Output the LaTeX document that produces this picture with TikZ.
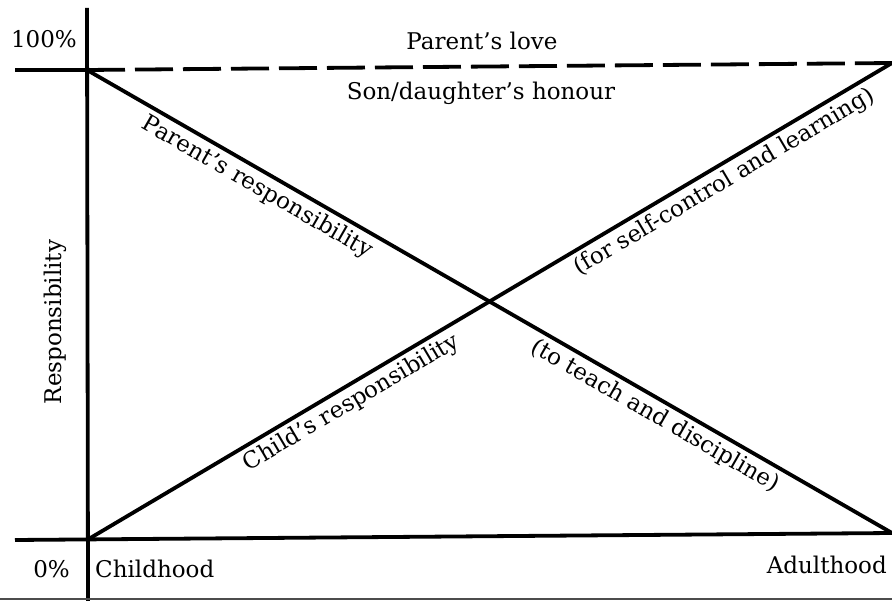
\documentclass[tikz,border=0pt]{standalone}
\usepackage{fontspec}
\setmainfont{DejaVu Serif}
\begin{document}
\begin{tikzpicture}[x=1pt,y=-1pt,
  heavy/.style={line width=3.8pt},
  lbl/.style={font=\fontsize{23}{27}\selectfont, inner sep=0pt},
]
\useasboundingbox (0,0) rectangle (892,601);
\coordinate (axtop) at (87,8);
\coordinate (axbot) at (88,601);
\coordinate (TL) at (15,70);
\coordinate (T) at (87,70);
\coordinate (TR) at (892,63);
\coordinate (BL) at (15,540);
\coordinate (O) at (87,540);
\coordinate (BR) at (892,533);
\coordinate (FL) at (0,599);
\coordinate (FR) at (892,599);
% axes
\draw[heavy] (axtop) -- (axbot);
\draw[heavy] (TL) -- (T);
\draw[heavy, dash pattern=on 38pt off 10pt] (T) -- (TR);
\draw[heavy] (BL) -- (BR);
\draw[line width=1.2pt, black!70] (FL) -- (FR);
% diagonals
\draw[heavy] (T) -- (BR)
  node[lbl, sloped, pos=0.222, below=4pt] (prl) {Parent's responsibility}
  node[lbl, sloped, pos=0.716, below=4pt] (ptd) {(to teach and discipline)};
\draw[heavy] (O) -- (TR)
  node[lbl, sloped, pos=0.318, below=4pt] (crl) {Child's responsibility}
  node[lbl, sloped, pos=0.781, below=4pt] (csl) {(for self-control and learning)};
% labels
\node[lbl, anchor=base] (love) at (482,50) {Parent's love};
\node[lbl, anchor=base] (honour) at (481,100) {Son/daughter's honour};
\node[lbl, anchor=base east] (p100) at (77,48) {100\%};
\node[lbl, anchor=base east] (p0) at (70,577) {0\%};
\node[lbl, anchor=base west] (child) at (95,577) {Childhood};
\node[lbl, anchor=base east] (adult) at (887,573) {Adulthood};
\node[lbl, rotate=90] (resp) at (55,322) {Responsibility};
\end{tikzpicture}
\end{document}
